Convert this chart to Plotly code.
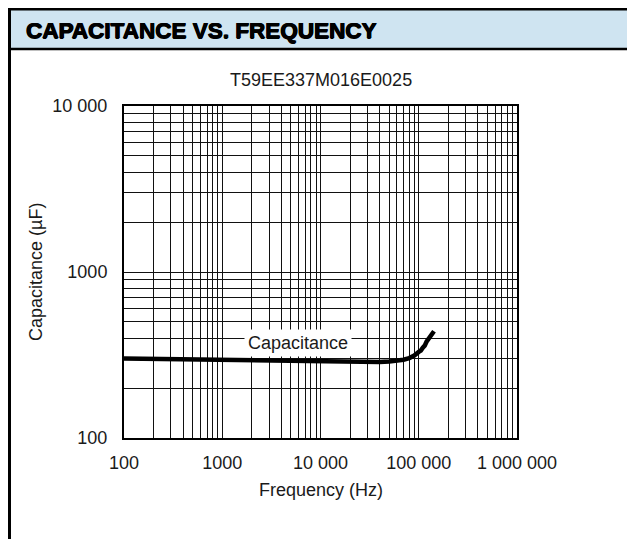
import plotly.graph_objects as go

# ---- data ----
freq_hz = [100, 150, 200, 300, 500, 700, 1000, 1500, 2000, 3000, 5000, 7000,
           10000, 15000, 20000, 30000, 40000, 50000, 60000, 70000, 80000,
           90000, 100000, 105000, 110000, 115000, 120000, 125000, 130000,
           135000, 140000, 143000]
capacitance_uf = [301, 300, 299, 297, 296, 295, 294, 293, 292, 291, 290, 290,
                  289, 289, 288, 288, 287, 289, 292, 296, 303, 314, 330, 336,
                  350, 360, 380, 392, 408, 420, 430, 440]

x_tick_vals = [100, 1000, 10000, 100000, 1000000]
x_tick_text = ["100", "1000", "10 000", "100 000", "1 000 000"]
y_tick_vals = [100, 1000, 10000]
y_tick_text = ["100", "1000", "10 000"]

x_minor = [m * 10 ** d for d in range(2, 6) for m in range(2, 10)]
y_minor = [m * 10 ** d for d in range(2, 4) for m in range(2, 10)]

# page body has an 8px margin: work in reference-window pixels and shift
OFF = 8
W, H = 635 - OFF, 539 - OFF
L, R, T, B = 124 - OFF, 517 - OFF, 106 - OFF, 438 - OFF


def px_x(px):
    return (px - OFF - L) / (R - L)


def px_y(py):
    return (B - (py - OFF)) / (B - T)


FONT = "Liberation Sans, Arial, sans-serif"
TXT = "#1a1a1a"

fig = go.Figure()
fig.add_trace(go.Scatter(x=freq_hz, y=capacitance_uf, mode="lines",
                         line=dict(color="black", width=4.5),
                         showlegend=False, hoverinfo="skip"))

axis_common = dict(type="log", showline=True, mirror=True, linecolor="black",
                   linewidth=2, showgrid=True, gridcolor="#111111",
                   gridwidth=1.4, ticks="", zeroline=False,
                   tickfont=dict(family=FONT, size=18, color=TXT))

fig.update_xaxes(range=[2, 6], tickmode="array", tickvals=x_tick_vals,
                 ticktext=x_tick_text, ticklabelstandoff=7,
                 minor=dict(tickmode="array", tickvals=x_minor, showgrid=True,
                            gridcolor="#111111", gridwidth=1.4),
                 **axis_common)
fig.update_yaxes(range=[2, 4], tickmode="array", tickvals=y_tick_vals,
                 ticktext=y_tick_text, ticklabelstandoff=11,
                 minor=dict(tickmode="array", tickvals=y_minor, showgrid=True,
                            gridcolor="#111111", gridwidth=1.4),
                 **axis_common)

shapes = [
    # header band
    dict(type="rect", xref="paper", yref="paper", x0=px_x(8), x1=px_x(640),
         y0=px_y(49), y1=px_y(8), fillcolor="#cfe4f1", line=dict(width=0),
         layer="below"),
    # top frame line
    dict(type="line", xref="paper", yref="paper", x0=px_x(8), x1=px_x(640),
         y0=px_y(9), y1=px_y(9), line=dict(color="black", width=3)),
    # header bottom line
    dict(type="line", xref="paper", yref="paper", x0=px_x(8), x1=px_x(640),
         y0=px_y(49), y1=px_y(49), line=dict(color="black", width=2.5)),
    # left frame line
    dict(type="line", xref="paper", yref="paper", x0=px_x(9.5), x1=px_x(9.5),
         y0=px_y(8), y1=px_y(545), line=dict(color="black", width=3)),
]

annotations = [
    dict(text="CAPACITANCE VS. FREQUENCY", xref="paper", yref="paper",
         x=px_x(24), y=px_y(30), xanchor="left", yanchor="middle",
         showarrow=False,
         font=dict(family=FONT, size=22.5, color="black", weight="bold",
                   shadow="0.7px 0 0 black, -0.5px 0 0 black, 0 0.5px 0 black")),
    dict(text="T59EE337M016E0025", xref="paper", yref="paper",
         x=0.5, y=px_y(80), xanchor="center", yanchor="middle",
         showarrow=False, font=dict(family=FONT, size=18, color=TXT)),
    dict(text="Capacitance (µF)", xref="paper", yref="paper",
         x=px_x(36), y=0.5, xanchor="center", yanchor="middle",
         textangle=-90, showarrow=False,
         font=dict(family=FONT, size=18, color=TXT)),
    dict(text="Frequency (Hz)", xref="paper", yref="paper",
         x=0.5, y=px_y(490), xanchor="center", yanchor="middle",
         showarrow=False, font=dict(family=FONT, size=18, color=TXT)),
    dict(text="Capacitance", xref="paper", yref="paper",
         x=px_x(298), y=px_y(343),
         xanchor="center", yanchor="middle", showarrow=False,
         bgcolor="white", borderpad=3,
         font=dict(family=FONT, size=18, color=TXT)),
]

fig.update_layout(width=W, height=H, margin=dict(l=L, r=W - R, t=T, b=H - B),
                  paper_bgcolor="white", plot_bgcolor="white",
                  shapes=shapes, annotations=annotations, showlegend=False)

fig.write_html("out.html")
